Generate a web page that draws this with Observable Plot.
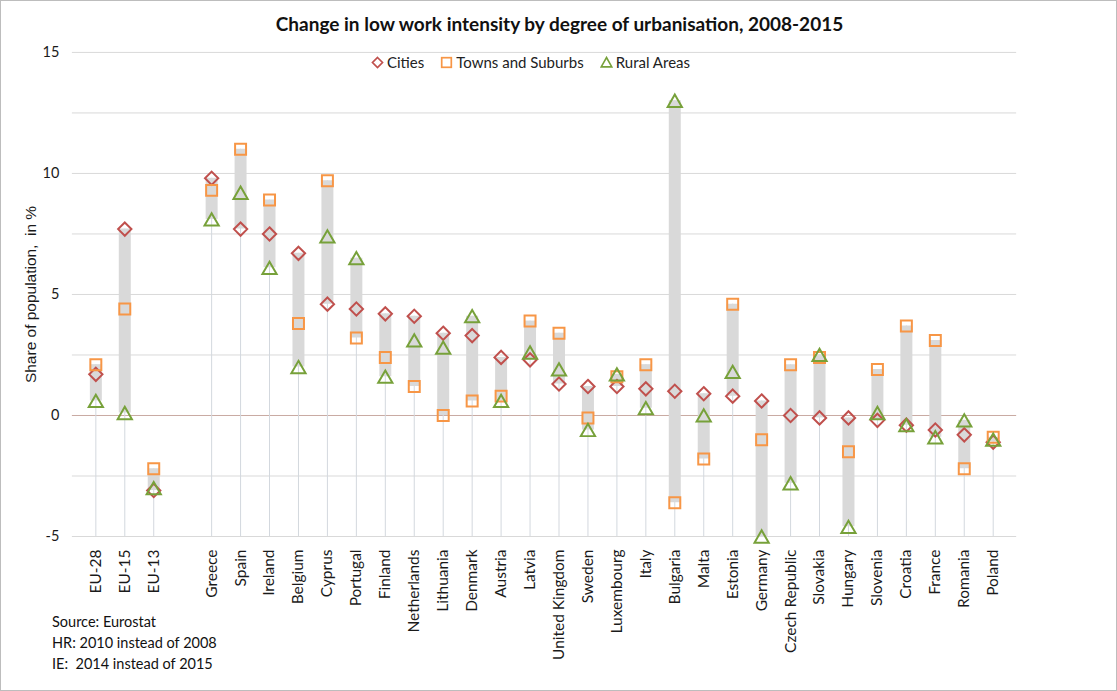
<!DOCTYPE html>
<html>
<head>
<meta charset="utf-8">
<script src="https://cdn.jsdelivr.net/npm/d3@7"></script>
<script src="https://cdn.jsdelivr.net/npm/@observablehq/plot@0.6"></script>
<style>
  body { margin: 0; background: #fff; font-family: Lato, "Open Sans", sans-serif; }
  #chart { position: relative; width: 1117px; height: 691px; box-sizing: border-box; border: 1px solid #bdbdbd; overflow: hidden; }
  #chart svg.plot { position: absolute; left: -1px; top: -1px; }
  .title { position: absolute; top: 11px; left: 0; width: 1117px; text-align: center; font-weight: bold; font-size: 19px; color: #111; }
  .legend { position: absolute; top: 52px; left: 370px; font-size: 15px; color: #222; display: flex; gap: 16px; align-items: center; }
  .legend span { display: inline-flex; align-items: center; gap: 3px; }
  .notes { position: absolute; left: 51px; top: 610px; font-size: 14.5px; line-height: 21px; color: #111; }
</style>
</head>
<body>
<div id="chart">
  <div class="title">Change in low work intensity by degree of urbanisation, 2008-2015</div>
  <div class="legend">
    <span><svg width="13" height="13" viewBox="-6.5 -6.5 13 13"><path d="M0,-5L5,0L0,5L-5,0Z" fill="none" stroke="#c0504d" stroke-width="1.7"/></svg>Cities</span>
    <span><svg width="13" height="13" viewBox="-6.5 -6.5 13 13"><rect x="-4.8" y="-4.8" width="9.6" height="9.6" fill="none" stroke="#f79646" stroke-width="1.7"/></svg>Towns and Suburbs</span>
    <span><svg width="13" height="13" viewBox="-6.5 -6.5 13 13"><path d="M0,-5L5.3,4.4L-5.3,4.4Z" fill="none" stroke="#77a13a" stroke-width="1.6"/></svg>Rural Areas</span>
  </div>
  <div class="notes">Source: Eurostat<br>HR: 2010 instead of 2008<br>IE:&nbsp; 2014 instead of 2015</div>
</div>
<script>
const countries = ["EU-28","EU-15","EU-13","Greece","Spain","Ireland","Belgium","Cyprus","Portugal","Finland","Netherlands","Lithuania","Denmark","Austria","Latvia","United Kingdom","Sweden","Luxembourg","Italy","Bulgaria","Malta","Estonia","Germany","Czech Republic","Slovakia","Hungary","Slovenia","Croatia","France","Romania","Poland"];
const cities = [1.7,7.7,-3.1,9.8,7.7,7.5,6.7,4.6,4.4,4.2,4.1,3.4,3.3,2.4,2.3,1.3,1.2,1.2,1.1,1.0,0.9,0.8,0.6,0.0,-0.1,-0.1,-0.2,-0.4,-0.6,-0.8,-1.1];
const towns = [2.1,4.4,-2.2,9.3,11.0,8.9,3.8,9.7,3.2,2.4,1.2,0.0,0.6,0.8,3.9,3.4,-0.1,1.6,2.1,-3.6,-1.8,4.6,-1.0,2.1,2.4,-1.5,1.9,3.7,3.1,-2.2,-0.9];
const rural = [0.6,0.1,-3.0,8.1,9.2,6.1,2.0,7.4,6.5,1.6,3.1,2.8,4.1,0.6,2.6,1.9,-0.6,1.7,0.3,13.0,0.0,1.8,-5.0,-2.8,2.5,-4.6,0.1,-0.4,-0.9,-0.2,-1.0];
const gap = " ";
const domain = [...countries.slice(0,3), gap, ...countries.slice(3)];
const yTicks = [-5,0,5,10,15];
const gridValues = [-5,-2.5,2.5,5,7.5,10,12.5,15];

const rows = countries.map((c,i) => ({
  name: c, cities: cities[i], towns: towns[i], rural: rural[i],
  lo: Math.min(cities[i], towns[i], rural[i]),
  hi: Math.max(cities[i], towns[i], rural[i])
}));

const chart = Plot.plot({
  width: 1117,
  height: 691,
  marginLeft: 71,
  marginRight: 100,
  marginTop: 51,
  marginBottom: 155,
  style: { fontFamily: "Lato, 'Open Sans', sans-serif", fontSize: "15px", color: "#1a1a1a", background: "transparent" },
  x: { type: "band", domain, padding: 0 },
  y: { domain: [-5, 15] },
  marks: [
    Plot.ruleY(gridValues, { stroke: "#d9d9d9", strokeWidth: 1 }),
    Plot.ruleY([0], { stroke: "#c9aaa2", strokeWidth: 1 }),
    Plot.ruleX(rows, { x: "name", y1: -5, y2: "hi", stroke: "#d3d8de", strokeWidth: 1 }),
    Plot.ruleX(rows, { x: "name", y1: "lo", y2: "hi", stroke: "#d9d9d9", strokeWidth: 12 }),
    Plot.dot(rows, { x: "name", y: "cities", symbol: "diamond2", r: 6, stroke: "#c0504d", strokeWidth: 2 }),
    Plot.dot(rows, { x: "name", y: "towns", symbol: "square2", r: 7, stroke: "#f79646", strokeWidth: 2 }),
    Plot.dot(rows, { x: "name", y: "rural", symbol: "triangle2", r: 6.8, dy: 2, stroke: "#77a13a", strokeWidth: 2 }),
    Plot.axisX({ tickRotate: -90, tickSize: 0, tickPadding: 13, fontSize: 15.5, label: null }),
    Plot.axisY({ ticks: yTicks, tickFormat: d => String(d), tickSize: 0, tickPadding: 13, fontSize: 14.5, label: null }),
    Plot.text(["Share of population,  in %"], { frameAnchor: "left", textAnchor: "middle", dx: -41, rotate: -90, fontSize: 15.5, fontFamily: "'Liberation Sans', Arial, sans-serif", fill: "#1a1a1a" })
  ]
});
document.getElementById("chart").appendChild(chart);
</script>
</body>
</html>
